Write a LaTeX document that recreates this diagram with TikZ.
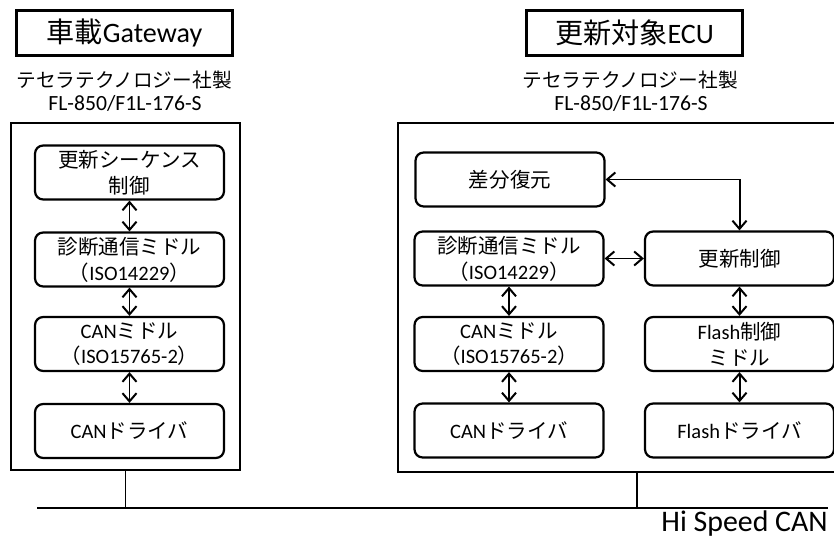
\documentclass[tikz,border=0pt]{standalone}
\usepackage{fontspec}
\setmainfont{Carlito}
\newfontfamily\jpfont{Noto Sans CJK JP}
\newcommand{\jtext}[1]{{\jpfont #1}}
\usetikzlibrary{arrows.meta}

\begin{document}
\begin{tikzpicture}[x=0.03cm, y=-0.03cm,
    titlebox/.style={draw, line width=2pt, minimum width=6.48cm, minimum height=1.35cm,
        inner sep=0pt, font=\fontsize{24}{28}\selectfont},
    frame/.style={draw, line width=2pt, inner sep=0pt},
    block/.style={draw, line width=1.9pt, rounded corners=7pt, minimum width=5.67cm,
        minimum height=1.62cm, inner sep=0pt, align=center,
        font=\fontsize{17.5}{22}\selectfont},
    maker/.style={font=\fontsize{16.8}{20}\selectfont},
    model/.style={font=\fontsize{18.5}{20}\selectfont},
    link/.style={line width=1.7pt,
        {Straight Barb[length=7pt,width=12pt]}-{Straight Barb[length=7pt,width=12pt]}}
]
    \useasboundingbox (0,0) rectangle (834,538);
    \clip (0,0) rectangle (834,538);

    % gateway side
    \node [titlebox] (gwtitle) at (124.5,33) {\jtext{車載}Gateway};
    \node [maker] (gwmaker) at (124,80) {\jtext{テセラテクノロジー社製}};
    \node [model] (gwmodel) at (125,103) {FL-850/F1L-176-S};

    \node [frame, minimum width=6.87cm, minimum height=10.41cm]
        (gwframe) at (125.5,296.5) {};

    \node [block] (gwseq) at (129.5,172.5) {\jtext{更新シーケンス}\\\jtext{制御}};
    \node [block] (gwdiag) at (129.5,259.5) {\jtext{診断通信ミドル}\\\jtext{（}ISO14229\jtext{）}};
    \node [block] (gwcanmid) at (129.5,344) {CAN\jtext{ミドル}\\\jtext{（}ISO15765-2\jtext{）}};
    \node [block] (gwcandrv) at (129.5,431) {CAN\jtext{ドライバ}};

    \draw [link] (gwseq) -- (gwdiag);
    \draw [link] (gwdiag) -- (gwcanmid);
    \draw [link] (gwcanmid) -- (gwcandrv);

    % ecu side
    \node [titlebox] (ecutitle) at (634.5,33) {\jtext{更新対象}ECU};
    \node [maker] (ecumaker) at (630,80) {\jtext{テセラテクノロジー社製}};
    \node [model] (ecumodel) at (631,103) {FL-850/F1L-176-S};

    \node [frame, minimum width=14.34cm, minimum height=10.47cm]
        (ecuframe) at (637,297.5) {};

    \node [block] (ecudiff) at (510,179.5) {\jtext{差分復元}};
    \node [block] (ecudiag) at (509,258.5) {\jtext{診断通信ミドル}\\\jtext{（}ISO14229\jtext{）}};
    \node [block] (ecucanmid) at (509,344) {CAN\jtext{ミドル}\\\jtext{（}ISO15765-2\jtext{）}};
    \node [block] (ecucandrv) at (509,430.5) {CAN\jtext{ドライバ}};

    \node [block] (ecuupd) at (739.5,258.5) {\jtext{更新制御}};
    \node [block] (ecuflmid) at (739.5,344) {Flash\jtext{制御}\\\jtext{ミドル}};
    \node [block] (ecufldrv) at (739.5,430.5) {Flash\jtext{ドライバ}};

    \draw [link] (ecudiff.east) -| (ecuupd.north);
    \draw [link] (ecudiag) -- (ecuupd);
    \draw [link] (ecudiag) -- (ecucanmid);
    \draw [link] (ecucanmid) -- (ecucandrv);
    \draw [link] (ecuupd) -- (ecuflmid);
    \draw [link] (ecuflmid) -- (ecufldrv);

    % bus
    \coordinate (busL) at (37,508);
    \coordinate (busR) at (828,508);
    \draw [line width=2pt] (busL) -- (busR);
    \draw [line width=1.6pt] (gwframe.south) -- (gwframe.south |- busL);
    \draw [line width=1.6pt] (ecuframe.south) -- (ecuframe.south |- busL);
    \node [anchor=base east, inner sep=0pt, font=\fontsize{25.5}{28}\selectfont]
        (buslabel) at (828,531) {Hi Speed CAN};
\end{tikzpicture}
\end{document}
